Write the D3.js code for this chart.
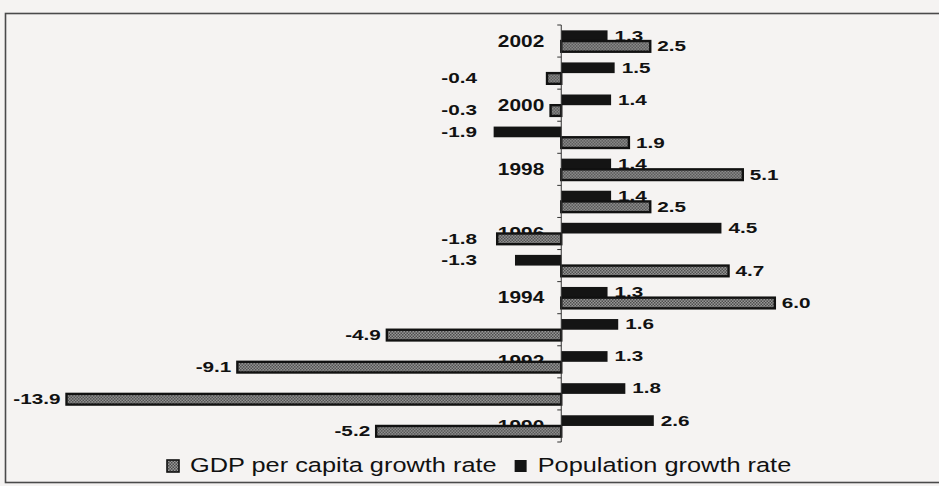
<!DOCTYPE html>
<html>
<head>
<meta charset="utf-8">
<script src="https://cdn.jsdelivr.net/npm/d3@7"></script>
<style>
  html, body { margin: 0; padding: 0; background: #f5f3f2; }
  svg { display: block; }
  text { font-family: "Liberation Sans", Arial, sans-serif; fill: #111; }
  .year { font-size: 16.3px; font-weight: bold; }
  .val { font-size: 14.8px; font-weight: bold; }
  .leg { font-size: 19.5px; }
</style>
</head>
<body>
<div id="chart"></div>
<script>
// data
var years = [1990, 1991, 1992, 1993, 1994, 1995, 1996, 1997, 1998, 1999, 2000, 2001, 2002]
var gdpGrowth = [-5.2, -13.9, -9.1, -4.9, 6.0, 4.7, -1.8, 2.5, 5.1, 1.9, -0.3, -0.4, 2.5]
var popGrowth = [2.6, 1.8, 1.3, 1.6, 1.3, -1.3, 4.5, 1.4, 1.4, -1.9, 1.4, 1.5, 1.3]
var yearTicks = [1990, 1992, 1994, 1996, 1998, 2000, 2002]
var seriesKeys = ["pop", "gdp"]
var seriesNames = ["GDP per capita growth rate", "Population growth rate"]

var width = 939,
  height = 486

// the scan is stretched sideways, so text gets a horizontal scale
var stretchYear = 1.28,
  stretchVal = 1.4,
  stretchLeg = 1.3

var svg = d3.select("#chart")
  .append("svg")
  .attr("width", width)
  .attr("height", height)

// crosshatch fill for the GDP bars
var pat = svg.append("defs").append("pattern")
  .attr("id", "hatch")
  .attr("patternUnits", "userSpaceOnUse")
  .attr("width", 3).attr("height", 3)
pat.append("rect").attr("width", 3).attr("height", 3).attr("fill", "#9a9a9a")
pat.append("rect").attr("width", 1.5).attr("height", 1.5).attr("fill", "#4a4a4a")
pat.append("rect").attr("x", 1.5).attr("y", 1.5).attr("width", 1.5).attr("height", 1.5).attr("fill", "#4a4a4a")

// frame
svg.append("rect")
  .attr("x", 5.5).attr("y", 13.5)
  .attr("width", 960).attr("height", 469)
  .attr("fill", "none")
  .attr("stroke", "#4a4a4a")
  .attr("stroke-width", 1.6)

var rows = years.map(function(yr, i) {
  return { year: yr, pop: popGrowth[i], gdp: gdpGrowth[i] }
})

// scales
var x = d3.scaleLinear()
  .domain([-15.6, 10.5])
  .range([6, 935])

var y = d3.scaleBand()
  .domain(years.slice().reverse())
  .range([25, 442])
  .paddingInner(1 / 3)
  .paddingOuter(1 / 6)

var ySub = d3.scaleBand()
  .domain(seriesKeys)
  .range([0, y.bandwidth()])

// year labels go under the bars
var yAxis = svg.append("g")
  .attr("transform", "translate(" + x(0) + ",0)")
  .call(d3.axisLeft(y).tickValues(yearTicks).tickSize(0).tickPadding(17))
yAxis.select(".domain").remove()
yAxis.selectAll("text")
  .attr("class", "year")
  .attr("x", null)
  .attr("dy", null)
  .attr("dominant-baseline", "central")
  .attr("transform", "translate(-17,0) scale(" + stretchYear + ",1)")

// bars
var groups = svg.append("g")
  .selectAll("g")
  .data(rows)
  .enter()
  .append("g")
  .attr("transform", function(d) {
    return "translate(0," + y(d.year) + ")"
  })

groups.selectAll("rect")
  .data(function(d) {
    return seriesKeys.map(function(k) { return { key: k, value: d[k] } })
  })
  .enter()
  .append("rect")
  .attr("x", function(d) { return x(Math.min(0, d.value)) })
  .attr("width", function(d) { return Math.abs(x(d.value) - x(0)) })
  .attr("y", function(d) { return ySub(d.key) })
  .attr("height", ySub.bandwidth())
  .attr("fill", function(d) { return d.key == "gdp" ? "url(#hatch)" : "#141414" })
  .attr("stroke", function(d) { return d.key == "gdp" ? "#111" : "none" })
  .attr("stroke-width", 2.4)

// value labels; small negatives are pushed left, clear of the year labels
groups.selectAll(".val")
  .data(function(d) {
    return seriesKeys.map(function(k) { return { key: k, value: d[k] } })
  })
  .enter()
  .append("text")
  .attr("class", "val")
  .attr("text-anchor", function(d) { return d.value < 0 ? "end" : "start" })
  .attr("dominant-baseline", "central")
  .attr("transform", function(d) {
    var px = d.value < 0 ? Math.min(x(d.value) - 6, 477) : x(d.value) + 7
    return "translate(" + px + "," + (ySub(d.key) + ySub.bandwidth() / 2) + ") scale(" + stretchVal + ",1)"
  })
  .text(function(d) { return d.value.toFixed(1) })

// axis line with ticks on the category boundaries
var axis = svg.append("g")
  .attr("transform", "translate(" + x(0) + ",0)")
axis.append("line")
  .attr("y1", y.range()[0]).attr("y2", y.range()[1])
  .attr("stroke", "#333").attr("stroke-width", 1)
axis.selectAll(".bound")
  .data(years.concat([years[0] - 1]))
  .enter()
  .append("line")
  .attr("x1", -4).attr("x2", 0)
  .attr("y1", function(d, i) {
    return i < years.length ? y(d) - y.step() * y.paddingInner() / 2 : y.range()[1]
  })
  .attr("y2", function(d, i) {
    return i < years.length ? y(d) - y.step() * y.paddingInner() / 2 : y.range()[1]
  })
  .attr("stroke", "#333")

// legend
var legend = svg.append("g")
var lx = 167
seriesNames.forEach(function(name, i) {
  legend.append("rect")
    .attr("x", lx).attr("y", 460)
    .attr("width", 12).attr("height", 12)
    .attr("fill", i == 0 ? "url(#hatch)" : "#141414")
    .attr("stroke", "#111")
    .attr("stroke-width", i == 0 ? 1.6 : 0)
  var t = legend.append("text")
    .attr("class", "leg")
    .attr("transform", "translate(" + (lx + 23) + ",471.7) scale(" + stretchLeg + ",1)")
    .text(name)
  lx = lx + 23 + t.node().getComputedTextLength() * stretchLeg + 18
})
</script>
</body>
</html>
